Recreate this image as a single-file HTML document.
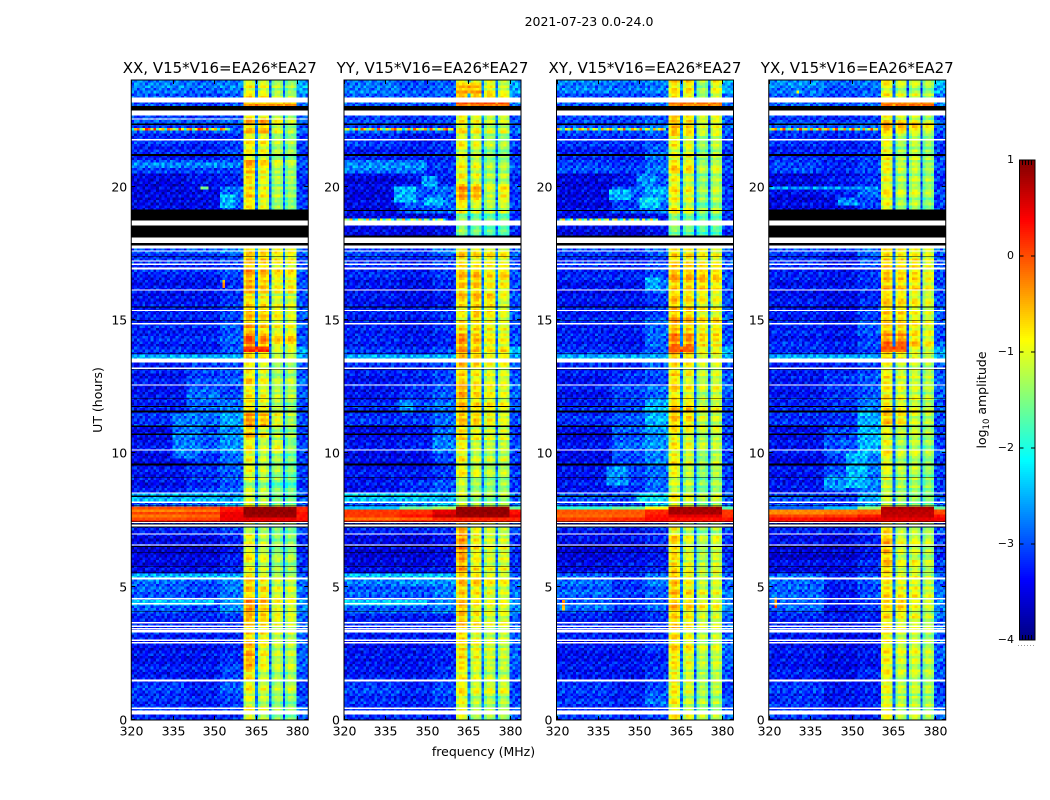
<!DOCTYPE html>
<html lang="en">
<head>
<meta charset="utf-8">
<title>2021-07-23 0.0-24.0</title>
<style>
html,body{margin:0;padding:0;background:#fff;width:1050px;height:800px;overflow:hidden}
svg{display:block}
text{font-family:"DejaVu Sans","Liberation Sans",sans-serif;fill:#000}
</style>
</head>
<body>
<svg id="chart" width="1050" height="800" viewBox="0 0 1050 800" xmlns="http://www.w3.org/2000/svg">
  <text x="589" y="26" font-size="12.5" text-anchor="middle">2021-07-23 0.0-24.0</text>
  <g id="panels"></g>
  <text x="483.5" y="756" font-size="12.5" text-anchor="middle">frequency (MHz)</text>
  <text transform="translate(102,400) rotate(-90)" font-size="12.5" text-anchor="middle">UT (hours)</text>
  <g id="colorbar"></g>
  <text transform="translate(986,400) rotate(-90)" font-size="12.5" text-anchor="middle">log<tspan font-size="8.5" dy="3">10</tspan><tspan dy="-3"> amplitude</tspan></text>
</svg>
<script>
/* Axis values */
const xTicks = [320, 335, 350, 365, 380];
const yTicks = [0, 5, 10, 15, 20];
const colorTicks = [-4, -3, -2, -1, 0, 1];
const titles = ["XX, V15*V16=EA26*EA27", "YY, V15*V16=EA26*EA27", "XY, V15*V16=EA26*EA27", "YX, V15*V16=EA26*EA27"];
const bandEdges = [320, 340, 352, 360.5, 364.7, 365.8, 369.8, 370.7, 374.8, 375.6, 379.8, 384];

/* Half-hour log10 amplitude per band, 12 values per line = 6 hours */
const sharedLow = [
-3.0,-3.0,-2.95,-3.15,-3.2,-3.2,-3.1,-3.1,-2.75,-2.75,-2.7,-3.3,
-3.4,-3.3,-3.1,-3.0,-2.85,-3.2,-3.2,-3.3,-3.2,-3.3,-3.0,-3.1,
-3.2,-3.2,-3.1,-3.0,-3.1,-3.1,-3.1,-3.2,-3.2,-3.1,-3.0,-2.9,
-3.3,-3.3,-3.3,-3.35,-3.35,-2.9,-3.1,-3.0,-2.85,-2.9,-2.8,-2.6];
const sharedRight = [
-2.8,-2.9,-3.0,-2.9,-2.8,-2.8,-2.8,-2.8,-2.6,-2.7,-2.8,-3.0,
-3.1,-3.1,-2.9,-2.6,-2.8,-3.0,-3.0,-3.0,-2.9,-3.0,-2.9,-2.9,
-2.8,-2.8,-2.9,-2.4,-2.9,-2.9,-2.8,-2.9,-2.9,-2.9,-2.9,-2.8,
-3.1,-3.1,-3.0,-3.0,-3.1,-2.9,-3.0,-3.0,-2.8,-2.9,-2.7,-2.4];

const xxMid = [
-3.0,-3.0,-3.0,-3.1,-3.1,-3.1,-3.0,-3.0,-2.8,-2.8,-2.75,-3.2,
-3.3,-3.2,-3.0,-2.9,-2.6,-2.9,-2.9,-2.9,-2.7,-2.7,-2.6,-2.6,
-2.6,-2.8,-2.8,-3.0,-3.0,-3.0,-3.0,-3.1,-3.1,-3.0,-2.9,-2.7,
-3.3,-3.3,-3.2,-3.2,-3.1,-2.8,-3.0,-3.0,-2.8,-2.9,-2.8,-2.6];
const xxHigh = [
-2.8,-2.7,-2.6,-2.7,-2.8,-2.9,-2.9,-2.8,-2.3,-2.4,-2.4,-2.9,
-3.0,-2.9,-2.7,-2.6,-2.2,-2.6,-2.6,-2.5,-2.3,-2.3,-2.2,-2.4,
-2.7,-2.6,-2.6,-2.6,-2.6,-2.6,-2.7,-2.8,-2.8,-2.7,-2.7,-2.4,
-3.0,-3.0,-2.6,-2.5,-2.9,-2.7,-2.7,-2.8,-2.6,-2.7,-2.6,-2.4];
const xxGold1 = [
-.9,-1.0,-.9,-.75,-.45,-.5,-.75,-.55,-.3,-.6,-.7,-.9,
-.9,-.85,-1.2,-1.0,-1.0,-1.2,-1.0,-.9,-.9,-.6,-.35,-.7,
-.8,-.75,-.8,-.55,-.15,-.5,-.55,-.75,-.45,-.45,-.55,-.8,
-1.2,-1.1,-.8,-.7,-.75,-.5,-.85,-.85,-.55,-.8,-.7,-.95];
const xxGold2 = [
-1.0,-1.05,-.95,-1.0,-.8,-.8,-.75,-.6,-.45,-.6,-.8,-.95,
-1.0,-1.0,-1.2,-1.0,-1.1,-1.2,-1.05,-1.0,-1.05,-.85,-.45,-.75,
-.85,-.9,-.85,-.6,-.3,-.6,-.55,-.75,-.5,-.5,-.55,-.75,
-1.3,-1.2,-.9,-.8,-.85,-.7,-.85,-.8,-.4,-.75,-.7,-.9];
const xxGold3 = [
-1.2,-1.15,-1.1,-1.1,-1.0,-1.0,-1.0,-.8,-.75,-.8,-1.0,-1.1,
-1.2,-1.2,-1.3,-1.0,-1.3,-1.4,-1.2,-1.1,-.85,-1.1,-.8,-1.0,
-1.0,-1.1,-1.1,-.9,-.6,-.8,-.7,-.9,-.7,-.7,-.7,-.8,
-1.3,-1.3,-1.2,-1.1,-1.1,-1.0,-1.1,-1.1,-.85,-1.0,-1.0,-1.1];
const xxGold4 = [
-1.3,-1.25,-1.0,-1.1,-1.0,-1.0,-1.05,-.9,-.85,-.85,-1.05,-1.15,
-1.2,-1.2,-1.4,-1.0,-1.4,-1.5,-1.4,-1.35,-1.3,-1.2,-1.1,-1.15,
-1.05,-1.1,-1.1,-.9,-.55,-.8,-.85,-.95,-.65,-.7,-.75,-.85,
-1.4,-1.4,-1.3,-1.25,-1.15,-1.15,-1.2,-1.2,-1.1,-1.2,-1.1,-1.2];

const yyMid = [
-2.9,-3.0,-3.0,-3.1,-3.1,-3.1,-3.0,-3.0,-2.7,-2.7,-2.5,-3.2,
-3.3,-3.3,-3.0,-2.9,-2.5,-2.9,-3.1,-3.2,-3.0,-3.1,-2.9,-2.8,
-2.9,-3.0,-3.0,-3.0,-3.1,-3.1,-3.0,-3.2,-3.2,-3.1,-3.0,-2.9,
-3.3,-3.3,-2.7,-2.7,-3.1,-3.0,-3.0,-3.1,-2.9,-2.9,-2.7,-2.7];
const yyHigh = [
-2.9,-2.7,-2.7,-2.8,-2.9,-2.9,-2.9,-2.9,-2.4,-2.4,-2.4,-3.0,
-3.1,-3.0,-2.8,-2.6,-2.1,-2.6,-2.8,-2.7,-2.4,-2.5,-2.5,-2.5,
-2.6,-2.7,-2.7,-2.7,-2.9,-2.8,-2.8,-3.0,-2.9,-2.8,-2.7,-2.4,
-3.1,-3.1,-2.5,-2.5,-2.9,-2.8,-2.8,-2.9,-2.7,-2.7,-2.6,-2.5];
const yyGold1 = [
-.85,-.9,-.85,-.85,-.75,-.7,-.7,-.55,-.55,-.6,-.6,-.4,
-.35,-.3,-.5,-1.0,-1.15,-1.1,-.9,-.85,-.85,-.7,-.55,-.6,
-.45,-.6,-.65,-.4,-.3,-.7,-.85,-.65,-.6,-.6,-.7,-.8,
-1.35,-1.45,-.85,-.3,-.8,-.9,-.95,-.95,-.8,-.85,-.55,-.9];
const yyGold2 = [
-1.05,-1.05,-.95,-.95,-.85,-.75,-.85,-.7,-.75,-.65,-.6,-.7,
-.75,-.7,-.85,-1.0,-1.2,-1.2,-1.0,-1.0,-1.0,-.85,-.55,-.7,
-.6,-.7,-.7,-.5,-.45,-.65,-.5,-.5,-.5,-.5,-.7,-.75,
-1.4,-1.5,-.95,-.35,-.85,-.95,-1.0,-.95,-.8,-.85,-.5,-.9];
const yyGold3 = [
-1.0,-1.05,-.9,-1.0,-.95,-.85,-1.0,-.85,-.85,-.8,-.75,-.85,
-.9,-.85,-.95,-1.0,-1.25,-1.2,-1.1,-1.0,-1.0,-.9,-.7,-.75,
-.7,-.8,-.85,-.7,-.65,-.75,-.65,-.55,-.7,-.65,-.65,-.8,
-1.5,-1.5,-1.05,-.95,-1.05,-1.15,-1.2,-1.1,-.95,-1.0,-.55,-.7];
const yyGold4 = [
-1.05,-1.05,-.9,-1.05,-1.0,-.95,-.95,-.85,-.85,-.85,-.85,-.85,
-.85,-.9,-1.05,-1.0,-1.15,-1.15,-1.1,-1.0,-1.0,-.9,-.85,-.85,
-.85,-.85,-.9,-.65,-.75,-.85,-.85,-.9,-.7,-.6,-.75,-.9,
-1.5,-1.5,-.95,-.65,-1.0,-1.15,-1.2,-1.2,-.95,-.95,-.7,-.9];

const xyMid = [
-3.0,-3.0,-3.0,-3.1,-3.1,-3.1,-3.1,-3.1,-2.9,-2.85,-2.9,-3.1,
-3.2,-3.2,-3.1,-3.0,-2.8,-2.9,-2.8,-2.8,-2.6,-2.7,-2.7,-2.8,
-2.8,-2.9,-3.0,-3.0,-3.1,-3.0,-3.0,-3.1,-3.1,-3.0,-3.0,-2.9,
-3.3,-3.3,-2.8,-2.7,-3.1,-2.9,-3.0,-2.9,-2.8,-2.8,-2.7,-2.6];
const xyHigh = [
-2.8,-2.5,-2.7,-2.8,-2.9,-2.8,-2.9,-2.8,-2.6,-2.6,-2.4,-2.9,
-3.0,-2.9,-2.8,-2.7,-2.0,-2.5,-2.5,-2.4,-2.3,-2.3,-2.1,-2.1,
-2.5,-2.7,-2.6,-2.6,-2.5,-2.5,-2.7,-2.8,-2.4,-2.7,-2.7,-2.5,
-3.0,-3.0,-2.5,-2.2,-2.6,-2.5,-2.5,-2.7,-2.5,-2.6,-2.5,-2.4];
const xyGold1 = [
-.85,-.85,-.8,-.85,-.75,-.7,-.7,-.6,-.55,-.55,-.55,-.7,
-.7,-.7,-.85,-1.0,-.9,-1.1,-.9,-.85,-.8,-.85,-.55,-.6,
-.75,-.7,-.75,-.55,-.2,-.45,-.5,-.6,-.55,-.5,-.65,-.75,
-1.4,-1.35,-.85,-.8,-.85,-.7,-.95,-.8,-.5,-.65,-.55,-.75];
const xyGold2 = [
-1.0,-1.05,-.9,-.95,-.85,-.75,-.85,-.7,-.65,-.65,-.75,-.85,
-.9,-.95,-1.0,-1.0,-1.0,-1.15,-1.05,-1.0,-.85,-.9,-.6,-.6,
-.8,-.85,-.75,-.6,-.2,-.5,-.5,-.65,-.5,-.5,-.6,-.75,
-1.4,-1.4,-.95,-.85,-.95,-.75,-.85,-.85,-.55,-.75,-.6,-.7];
const xyGold3 = [
-1.15,-1.1,-1.1,-1.1,-1.0,-1.0,-1.05,-.9,-.8,-.85,-1.0,-1.05,
-1.1,-1.1,-1.2,-1.0,-1.2,-1.35,-1.25,-1.25,-1.0,-1.1,-.9,-.95,
-1.05,-1.0,-1.0,-.8,-.55,-.65,-.7,-.75,-.45,-.5,-.7,-.75,
-1.5,-1.45,-1.3,-1.2,-1.2,-1.15,-1.2,-1.2,-.9,-1.0,-1.0,-1.2];
const xyGold4 = [
-1.2,-1.15,-1.0,-1.05,-.95,-.95,-1.0,-.9,-.85,-.85,-.9,-.9,
-.95,-.95,-1.05,-1.0,-1.05,-1.15,-1.1,-1.05,-1.0,-1.0,-.95,-.9,
-.9,-.95,-.95,-.8,-.6,-.6,-.75,-.85,-.6,-.6,-.75,-.9,
-1.5,-1.45,-1.15,-1.05,-1.05,-1.0,-1.05,-1.0,-.8,-.85,-.8,-.8];

const yxMid = [
-3.1,-3.1,-3.1,-3.2,-3.2,-3.2,-3.1,-3.1,-3.1,-3.1,-3.0,-3.2,
-3.3,-3.3,-3.1,-3.0,-2.85,-2.9,-2.8,-2.85,-2.7,-2.8,-2.9,-2.9,
-2.9,-2.9,-3.0,-3.0,-3.1,-3.1,-3.1,-3.2,-3.1,-3.1,-3.1,-2.9,
-3.3,-3.3,-3.2,-3.1,-3.1,-3.0,-3.0,-3.0,-2.8,-2.9,-2.8,-2.7];
const yxHigh = [
-3.0,-2.9,-2.9,-2.9,-3.0,-3.0,-3.0,-2.9,-2.8,-2.7,-2.6,-2.9,
-3.0,-3.0,-2.8,-2.7,-2.2,-2.4,-2.4,-2.4,-2.1,-2.1,-2.2,-2.4,
-2.6,-2.6,-2.7,-2.7,-2.7,-2.6,-2.7,-2.9,-2.8,-2.8,-2.6,-2.5,
-3.0,-3.0,-2.7,-2.6,-2.8,-2.7,-2.8,-2.8,-2.6,-2.7,-2.6,-2.5];
const yxGold1 = [
-.95,-1.0,-.9,-.9,-.85,-.85,-.8,-.75,-.7,-.75,-.75,-.65,
-.55,-.55,-.75,-1.0,-1.1,-1.15,-1.0,-.95,-.9,-1.0,-.55,-.75,
-.8,-.8,-.85,-.65,-.25,-.65,-.6,-.7,-.55,-.55,-.65,-.8,
-1.3,-1.2,-.9,-.9,-.95,-.85,-.9,-.9,-.5,-.75,-.75,-.95];
const yxGold2 = [
-1.15,-1.1,-1.05,-1.05,-.95,-.95,-.95,-.85,-.55,-.8,-.85,-.95,
-.95,-.95,-1.1,-1.0,-1.2,-1.2,-1.1,-1.1,-1.15,-1.1,-.65,-.85,
-.9,-.95,-.95,-.7,-.15,-.6,-.55,-.7,-.55,-.55,-.65,-.8,
-1.35,-1.3,-1.15,-1.1,-1.15,-1.05,-1.2,-1.15,-.5,-.85,-.85,-1.1];
const yxGold3 = [
-1.0,-1.05,-.95,-1.0,-.9,-.85,-.9,-.8,-.8,-.75,-.8,-.85,
-.9,-.9,-1.05,-1.0,-1.2,-1.15,-1.05,-1.05,-1.0,-1.0,-.9,-.9,
-.9,-.95,-.9,-.75,-.5,-.7,-.7,-.8,-.55,-.55,-.6,-.8,
-1.3,-1.25,-1.05,-1.0,-1.0,-1.0,-1.0,-1.0,-.6,-.85,-.85,-1.05];
const yxGold4 = [
-1.2,-1.15,-1.05,-1.1,-1.0,-1.05,-1.1,-1.0,-.95,-.95,-1.0,-1.05,
-1.05,-1.05,-1.15,-1.0,-1.3,-1.3,-1.25,-1.2,-1.2,-1.15,-1.05,-1.05,
-1.05,-1.05,-1.05,-.9,-.75,-.85,-.85,-.95,-.75,-.75,-.8,-.9,
-1.4,-1.4,-1.25,-1.2,-1.15,-1.15,-1.2,-1.2,-.8,-1.1,-1.05,-1.2];

/* Flare rows: start UT, end UT, low, mid, high, gold, right */
const xxFlare = [[7.95,8.05,0,.05,.3,.9,.2],[7.85,7.95,-.3,-.2,.3,.9,.2],[7.75,7.85,.05,.1,.45,.9,.3],[7.65,7.75,-.2,-.1,.45,.85,.3],[7.55,7.65,0,.05,.45,.5,.3],[7.45,7.55,.2,.25,.5,.45,.35]];
const yyFlare = [[7.9,8.05,-2.4,-1.6,-1.3,.9,-1.6],[7.75,7.9,.1,.15,.5,.9,.3],[7.6,7.75,.1,.3,.7,.85,.5],[7.5,7.6,-.2,-.1,.2,.2,.2],[7.45,7.5,.1,.2,.2,.2,.2]];
const xyFlare = [[7.9,8.05,-1.9,-1.6,-.9,.85,-1.7],[7.75,7.9,-.05,-.05,.2,.8,.1],[7.6,7.75,-.15,-.1,.3,.5,.15],[7.45,7.6,.1,.2,.35,.3,.3]];
const yxFlare = [[7.9,8.05,-2.9,-2.4,-1.4,.8,-1.6],[7.75,7.9,-.3,-.2,-.1,.7,0],[7.6,7.75,.05,.1,.25,.65,.3],[7.45,7.6,.3,.4,.5,.5,.4]];

/* Local features: f0 MHz, f1 MHz, start UT, end UT, level */
const commonPatches = [[320,360.5,13.55,13.72,-2.2]];
const xxPatches = [[320,356,22.1,22.2,-.9],[320,360,20.7,20.9,-2.5],[335,345,9.8,11.5,-2.5],[320,352,8.2,8.5,-2.2],[320,360,5.35,5.5,-2.2],[320,350,4.35,4.5,-2.2],[360.5,370,13.85,14.05,.05],[360.5,380,23.03,23.16,-.4],[353,354,16.2,16.5,-.5],[345,348,19.95,20.05,-1.6],[352,358,19.2,19.7,-2.2]];
const yyPatches = [[320,360,22.1,22.2,-1.2],[320,358,18.75,18.85,-1.8],[338,346,19.4,20,-2.2],[348.5,353.5,20,20.4,-2.3],[349,356,19.3,19.6,-2.2],[320,350,20.5,21,-2.5],[340,345,11.5,12,-2.4],[320,352,8.2,8.5,-2.1],[320,360,5.35,5.5,-2.1],[320,350,4.35,4.5,-2.1],[360.5,380,23.03,23.16,-.15],[360.5,370,23.5,23.9,-.55]];
const xyPatches = [[320,360,22.1,22.2,-1.2],[320,357,18.75,18.85,-1.8],[339,346.6,19.5,19.9,-2.2],[350,358,19.2,19.6,-2.0],[349,356,20,20.5,-2.4],[338,346,8.8,9.5,-2.4],[349,358,8.2,8.5,-2.0],[322,323,4.1,4.5,-.3],[360.5,380,23.03,23.16,-.35],[360.5,370,13.85,14.05,-.05],[352,358,16.1,16.6,-2.3]];
const yxPatches = [[320,360,22.1,22.2,-1.1],[320,360,19.95,20.05,-2.3],[345,352,19.3,19.6,-2.4],[348,356,8.7,10,-2.2],[340,348,8.6,9.2,-2.4],[352,358,10.8,11.6,-2.2],[322,323,4.2,4.6,-.3],[330,331,23.5,23.6,-.6],[360.5,380,23.03,23.16,-.4],[360.5,370,13.85,14.05,0]];

/* Masked integrations in UT hours */
const whiteGaps = [[.21,.36],[.42,.47],[1.45,1.52],[2.87,2.93],[2.96,3.02],[3.29,3.37],[3.4,3.45],[3.49,3.54],[3.62,3.67],[4.33,4.38],[4.52,4.57],[5.27,5.34],[6.54,6.59],[6.96,7.0],[7.26,7.33],[7.38,7.43],[8.14,8.19],[8.49,8.54],[10.11,10.15],[12.55,12.59],[13.17,13.22],[13.4,13.55],[14.83,14.88],[15.33,15.38],[16.1,16.15],[16.9,16.96],[17.06,17.11],[17.19,17.24],[17.56,17.6],[17.68,17.79],[17.88,18.09],[18.54,18.73],[21.73,21.78],[22.67,22.85],[23.16,23.34]];
const blackGaps = [[4.05,4.07],[5.51,5.54],[5.73,5.76],[6.26,6.28],[6.49,6.52],[7.22,7.25],[7.34,7.37],[7.44,7.47],[8.04,8.07],[8.37,8.41],[9.09,9.12],[9.55,9.62],[10.68,10.75],[10.98,11.05],[11.53,11.6],[11.74,11.77],[12.03,12.06],[13.14,13.17],[13.72,13.75],[14.96,14.99],[15.46,15.5],[17.36,17.39],[17.8,17.88],[21.15,21.22],[22.31,22.37],[22.85,23.03]];
const xxBlack = [[18.1,18.54],[18.73,19.14]];
const yyBlack = [[18.09,18.17],[19.08,19.12]];
const xyBlack = [[18.09,18.17],[19.08,19.12]];
const yxBlack = [[18.1,18.54],[18.73,19.14]];
const xxWhite = [[22.52,22.56]];

/* Hand-typed texture, tenths of a decade */
const speckleTile = [
[ 2,-1, 3,-2, 0, 1,-3, 2, 1,-1,-2, 3, 0,-3, 1, 2,-2, 0, 3],
[-3, 1, 0, 2,-2, 3, 1,-1,-3, 2, 0,-1, 3, 1,-2, 0, 2,-3, 1],
[ 1, 3,-2,-1, 2,-3, 0, 3,-1, 1,-3, 2,-2, 0, 3,-1, 1, 2,-3],
[ 0,-2, 2, 3,-3, 1,-1, 0, 2,-2, 3, 1,-1,-3, 2, 3,-2, 1, 0],
[-1, 2,-3, 1, 3,-1, 2,-2, 0, 3, 1,-3, 2, 1,-1, 0,-3, 3, 2],
[ 3, 0, 1,-3,-1, 2,-2, 3, 1,-1, 0, 2,-3, 3, 0,-2, 1,-1, 2],
[-2, 1,-1, 2, 0,-3, 3, 1,-2, 0, 3,-1, 1,-2, 2, 3,-3, 0, 1],
[ 1,-3, 3, 0, 2, 1,-2,-1, 3,-3, 1, 0, 2,-1,-3, 1, 3,-2, 0],
[ 2, 1,-2, 3,-1, 0, 2,-3, 1, 2,-2, 3,-1, 0, 1,-3, 2, 1,-2],
[-1, 3, 0,-2, 1,-3, 1, 2,-3, 3, 0,-2, 3, 1,-1, 2, 0,-3, 2],
[ 3,-2, 1, 0,-3, 2,-1, 1, 2,-1,-3, 1, 0, 3,-2,-1, 2, 1,-1],
[ 0, 2,-1,-3, 3,-2, 1, 0,-1, 2, 3,-3, 1,-2, 3, 0,-1, 2,-3],
[-2, 0, 3, 1,-1, 3,-3, 2, 0,-2, 1, 2,-3, 3, 0,-1, 1,-2, 3]];
const rowStreaks = [1,-2,0,2,3,-1,-3,1,2,-2,0,3,1,-1,-2,2,0,-3,1,3,2,-1,0,-2,3,1,-3,0,2,-1,1,-2,3,0,-1,2,-3,1,0,2,-2];
const bandCalibration = [-.2,-.3,-.4,0,-.3,-.1,-.4,-.15,-.4,-.15,-.15];

const panelLefts = [131.25, 344, 556.5, 768.75];
const gapLevels = [-2.5, -2.4, -2.5, -2.6];
const panelData = [
 {mid:xxMid,high:xxHigh,gold:[xxGold1,xxGold2,xxGold3,xxGold4],flare:xxFlare,patches:xxPatches,black:xxBlack,white:xxWhite,key:'xx'},
 {mid:yyMid,high:yyHigh,gold:[yyGold1,yyGold2,yyGold3,yyGold4],flare:yyFlare,patches:yyPatches,black:yyBlack,white:[],key:'yy'},
 {mid:xyMid,high:xyHigh,gold:[xyGold1,xyGold2,xyGold3,xyGold4],flare:xyFlare,patches:xyPatches,black:xyBlack,white:[],key:'xy'},
 {mid:yxMid,high:yxHigh,gold:[yxGold1,yxGold2,yxGold3,yxGold4],flare:yxFlare,patches:yxPatches,black:yxBlack,white:[],key:'yx'}
];

const NS = 'http://www.w3.org/2000/svg';
const plotTop = 80, plotH = 640, plotW = 177;
const xScale = (f, x0) => x0 + (f - 320) / 64 * plotW;
const yScale = t => plotTop + plotH - t / 24 * plotH;
const clamp = v => Math.max(0, Math.min(1, v));
function jet(v) {
  const t = clamp((v + 4) / 5);
  const r = clamp(Math.min(4 * t - 1.5, 4.5 - 4 * t));
  const g = clamp(Math.min(4 * t - 0.5, 3.5 - 4 * t));
  const b = clamp(Math.min(4 * t + 0.5, 2.5 - 4 * t));
  return 'rgb(' + Math.round(r * 255) + ',' + Math.round(g * 255) + ',' + Math.round(b * 255) + ')';
}
function line(parent, x1, y1, x2, y2, name) {
  const el = document.createElementNS(NS, 'line');
  el.setAttribute('x1', x1); el.setAttribute('y1', y1);
  el.setAttribute('x2', x2); el.setAttribute('y2', y2);
  el.setAttribute('stroke', '#000'); el.setAttribute('stroke-width', '1');
  
  
  parent.appendChild(el);
}
function label(parent, x, y, str, anchor, size, name) {
  const el = document.createElementNS(NS, 'text');
  el.setAttribute('x', x); el.setAttribute('y', y);
  el.setAttribute('text-anchor', anchor); el.setAttribute('font-size', size);
  el.textContent = str;
  
  
  parent.appendChild(el);
}
function bandLevel(panel, band, rowIdx) {
  if (band === 0) return sharedLow[rowIdx];
  if (band === 1) return panel.mid[rowIdx];
  if (band === 2) return panel.high[rowIdx];
  if (band === 3) return panel.gold[0][rowIdx];
  if (band === 5) return panel.gold[1][rowIdx];
  if (band === 7) return panel.gold[2][rowIdx];
  if (band === 9) return panel.gold[3][rowIdx];
  if (band === 10) return sharedRight[rowIdx];
  return null;
}
function flareLevel(row, band) {
  if (band === 0) return row[2];
  if (band === 1) return row[3];
  if (band === 2) return row[4];
  if (band === 10) return row[6];
  return row[5];
}
const panelsRoot = document.getElementById('panels');
panelData.forEach(function (panel, p) {
  const x0 = panelLefts[p];
  const g = document.createElementNS(NS, 'g');
  
  
  panelsRoot.appendChild(g);

  const clip = document.createElementNS(NS, 'clipPath');
  clip.setAttribute('id', 'clip-' + panel.key);
  const clipRect = document.createElementNS(NS, 'rect');
  clipRect.setAttribute('x', x0); clipRect.setAttribute('y', plotTop);
  clipRect.setAttribute('width', plotW); clipRect.setAttribute('height', plotH);
  clip.appendChild(clipRect);
  g.appendChild(clip);

  const cells = document.createElementNS(NS, 'g');
  cells.setAttribute('clip-path', 'url(#clip-' + panel.key + ')');
  cells.setAttribute('shape-rendering', 'crispEdges');
  
  
  g.appendChild(cells);

  const allPatches = commonPatches.concat(panel.patches);
  for (let r = 0; r < 240; r++) {
    const t0 = r * 0.1, t1 = t0 + 0.1, tc = t0 + 0.05;
    const halfHour = Math.floor(tc / 0.5);
    const flareRow = panel.flare.find(function (f) { return tc >= f[0] && tc < f[1]; });
    const streak = rowStreaks[(r + p * 9) % rowStreaks.length] * 0.1;
    let colCounter = 0;
    for (let b = 0; b < bandEdges.length - 1; b++) {
      const f0 = bandEdges[b], f1 = bandEdges[b + 1];
      const n = Math.max(1, Math.round(f1 - f0));
      const isGold = b === 3 || b === 5 || b === 7 || b === 9;
      const isGap = b === 4 || b === 6 || b === 8;
      for (let c = 0; c < n; c++) {
        const fa = f0 + (f1 - f0) * c / n, fb = f0 + (f1 - f0) * (c + 1) / n, fc = (fa + fb) / 2;
        let v = flareRow ? flareLevel(flareRow, b) : (isGap ? gapLevels[p] : bandLevel(panel, b, halfHour));
        if (!flareRow) v += bandCalibration[b];
        if (!flareRow && isGold) v += c === 0 ? -.3 : (c === n - 1 ? -.2 : 0);
        let lineBoost = 1;
        for (const q of allPatches) {
          if (fc >= q[0] && fc < q[1] && tc >= q[2] && tc < q[3]) {
            v = q[4] - (q[4] < -1.9 ? .3 : 0);
            if (q[3] - q[2] <= 0.11 && q[1] - q[0] > 5 && q[4] > -2) lineBoost = 3;
          }
        }
        const tileRow = speckleTile[(r + p * 5) % 13];
        const s = tileRow[(colCounter + p * 7 + 3 * Math.floor(r / 13)) % 19] * 0.1;
        v += s * (flareRow ? 0.25 : isGold ? 0.35 : isGap ? 1 : 1.3) * lineBoost;
        if (!flareRow) v += streak * (isGold ? 0.9 : 0.4);
        colCounter++;
        const rect = document.createElementNS(NS, 'rect');
        const xa = xScale(fa, x0), xb = xScale(fb, x0), ya = yScale(t1), yb = yScale(t0);
        rect.setAttribute('x', xa.toFixed(2));
        rect.setAttribute('y', ya.toFixed(2));
        rect.setAttribute('width', (xb - xa).toFixed(2));
        rect.setAttribute('height', (yb - ya).toFixed(2));
        rect.setAttribute('fill', jet(v));
        
        
        cells.appendChild(rect);
      }
    }
  }
  function gap(interval, color, name) {
    const rect = document.createElementNS(NS, 'rect');
    rect.setAttribute('x', x0); rect.setAttribute('width', plotW);
    rect.setAttribute('y', yScale(interval[1]).toFixed(2));
    rect.setAttribute('height', (yScale(interval[0]) - yScale(interval[1])).toFixed(2));
    rect.setAttribute('fill', color);
    
    
    cells.appendChild(rect);
  }
  whiteGaps.concat(panel.white).forEach(function (iv) { gap(iv, '#fff', 'white-flagged-band'); });
  blackGaps.concat(panel.black).forEach(function (iv) { gap(iv, '#000', 'black-flagged-band'); });

  const frame = document.createElementNS(NS, 'rect');
  frame.setAttribute('x', x0); frame.setAttribute('y', plotTop);
  frame.setAttribute('width', plotW); frame.setAttribute('height', plotH);
  frame.setAttribute('fill', 'none'); frame.setAttribute('stroke', '#000');
  
  
  g.appendChild(frame);

  xTicks.forEach(function (f) {
    const x = Math.round(xScale(f, x0)) + 0.5;
    line(g, x, plotTop + plotH, x, plotTop + plotH - 4, 'x-tick');
    line(g, x, plotTop, x, plotTop + 4, 'x-tick-top');
    label(g, x, 735.5, String(f), 'middle', 12.5, 'x-tick-label');
  });
  yTicks.forEach(function (t) {
    const y = Math.round(yScale(t)) - 0.5;
    line(g, x0, y, x0 + 4, y, 'y-tick');
    line(g, x0 + plotW, y, x0 + plotW - 4, y, 'y-tick-right');
    label(g, x0 - 4, y + 5, String(t), 'end', 12.5, 'y-tick-label');
  });
  label(g, x0 + plotW / 2, 73, titles[p], 'middle', 15, panel.key + '-title');
});

/* Colorbar */
const bar = document.getElementById('colorbar');
const barX = 1019.5, barW = 15.5, barTop = 160, barH = 480;
const barY = v => barTop + (1 - v) / 5 * barH;
const barCells = document.createElementNS(NS, 'g');
barCells.setAttribute('shape-rendering', 'crispEdges');


bar.appendChild(barCells);
for (let i = 0; i < 240; i++) {
  const v1 = -4 + (i + 1) * 5 / 240, v0 = -4 + i * 5 / 240;
  const rect = document.createElementNS(NS, 'rect');
  rect.setAttribute('x', barX); rect.setAttribute('width', barW);
  rect.setAttribute('y', barY(v1)); rect.setAttribute('height', barY(v0) - barY(v1));
  rect.setAttribute('fill', jet((v0 + v1) / 2));
  
  
  barCells.appendChild(rect);
}
const barFrame = document.createElementNS(NS, 'rect');
barFrame.setAttribute('x', barX); barFrame.setAttribute('y', barTop);
barFrame.setAttribute('width', barW); barFrame.setAttribute('height', barH);
barFrame.setAttribute('fill', 'none'); barFrame.setAttribute('stroke', '#000');


bar.appendChild(barFrame);
colorTicks.forEach(function (v) {
  const y = Math.round(barY(v));
  line(bar, barX, y, barX + 4, y, 'colorbar-tick');
  line(bar, barX + barW, y, barX + barW - 4, y, 'colorbar-tick-right');
  label(bar, 1014, y + 3, String(v).replace('-', '\u2212'), 'end', 11, 'colorbar-tick-label');
});
[1022.5, 1025.5, 1028.5, 1031.5].forEach(function (x) {
  line(bar, x, barTop, x, barTop + 5, 'colorbar-minor-tick');
  line(bar, x, barTop + barH, x, barTop + barH - 5, 'colorbar-minor-tick');
});
[1018, 1021, 1024, 1027, 1030, 1033].forEach(function (x) {
  const dot = document.createElementNS(NS, 'rect');
  dot.setAttribute('x', x); dot.setAttribute('y', 645);
  dot.setAttribute('width', 1); dot.setAttribute('height', 1);
  dot.setAttribute('fill', '#999');
  
  
  bar.appendChild(dot);
});
</script>
</body>
</html>
